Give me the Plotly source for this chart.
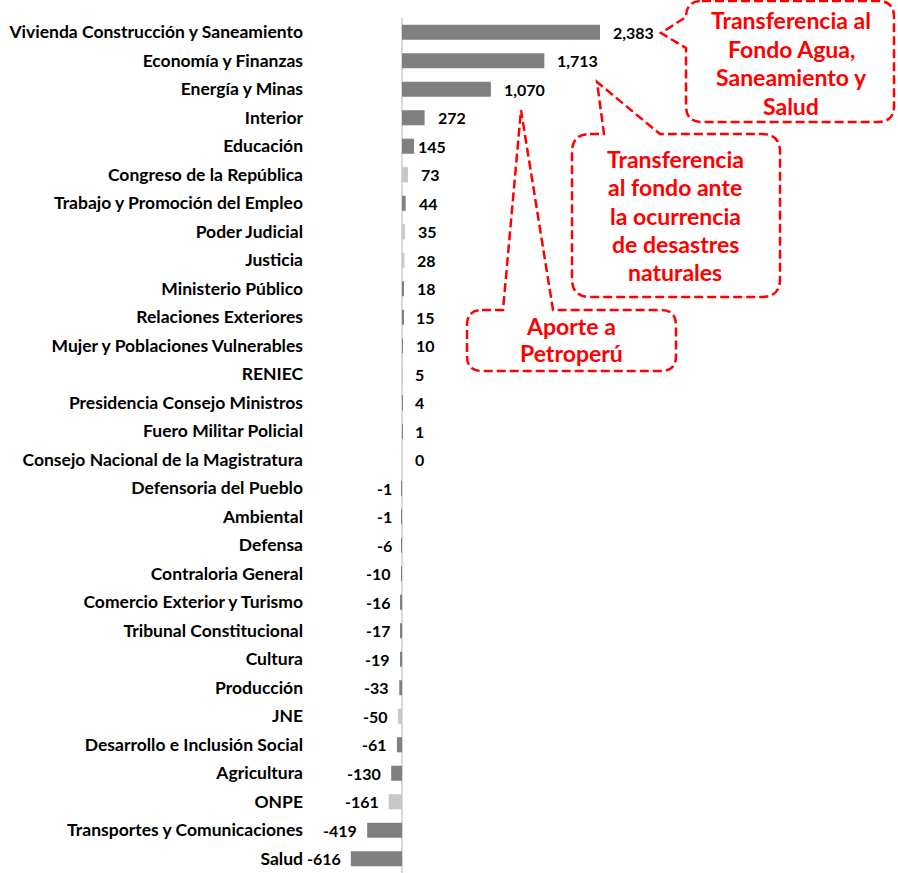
import plotly.graph_objects as go

categories = [
    "Vivienda Construcción y Saneamiento", "Economía y Finanzas", "Energía y Minas",
    "Interior", "Educación", "Congreso de la República",
    "Trabajo y Promoción del Empleo", "Poder Judicial", "Justicia",
    "Ministerio Público", "Relaciones Exteriores", "Mujer y Poblaciones Vulnerables",
    "RENIEC", "Presidencia Consejo Ministros", "Fuero Militar Policial",
    "Consejo Nacional de la Magistratura", "Defensoria del Pueblo", "Ambiental",
    "Defensa", "Contraloria General", "Comercio Exterior y Turismo",
    "Tribunal Constitucional", "Cultura", "Producción", "JNE",
    "Desarrollo e Inclusión Social", "Agricultura", "ONPE",
    "Transportes y Comunicaciones", "Salud",
]
values = [2383, 1713, 1070, 272, 145, 73, 44, 35, 28, 18, 15, 10, 5, 4, 1, 0,
          -1, -1, -6, -10, -16, -17, -19, -33, -50, -61, -130, -161, -419, -616]
light_entities = ["Congreso de la República", "Poder Judicial", "Justicia",
                  "RENIEC", "JNE", "ONPE"]

callout_lines = [
    ["Transferencia al", "Fondo Agua,", "Saneamiento y", "Salud"],
    ["Transferencia", "al fondo ante", "la ocurrencia", "de desastres", "naturales"],
    ["Aporte a", "Petroperú"],
]

W, H = 898, 873
L, R, T, B = 310, 8, 18, 0
PW, PH = W - L - R, H - T - B
ZERO_PX = 402
SCALE = (600 - 402) / 2383.0
xmin = -(ZERO_PX - L) / SCALE
xmax = (W - R - ZERO_PX) / SCALE

colors = ["#c8c8c8" if c in light_entities else "#808080" for c in categories]

fig = go.Figure(go.Bar(
    x=values, y=categories, orientation="h",
    marker=dict(color=colors, line=dict(width=0)),
    hoverinfo="x+y",
))

FONT = "Lato"
label_nudge = {"Educación": -9}
annotations = []
for c, v in zip(categories, values):
    if v >= 0:
        annotations.append(dict(x=v, y=c, xref="x", yref="y", text=f"{v:,}",
                                showarrow=False, xanchor="left",
                                xshift=11 + label_nudge.get(c, 0),
                                font=dict(family=FONT, size=16, color="black", weight="bold")))
    else:
        annotations.append(dict(x=v, y=c, xref="x", yref="y", text=f"{v:,}",
                                showarrow=False, xanchor="right", xshift=-8,
                                font=dict(family=FONT, size=16, color="black", weight="bold")))


def px(x):
    return (x - L) / PW


def py(y):
    return 1 - (y - T) / PH


def path(cmds):
    out = []
    for cmd in cmds:
        op = cmd[0]
        coords = cmd[1:]
        pts = [f"{px(coords[i]):.5f},{py(coords[i+1]):.5f}" for i in range(0, len(coords), 2)]
        out.append(op + " " + " ".join(pts))
    return " ".join(out) + " Z"


def box(x0, y0, x1, y1, r, pointer):
    side, a, b, tx, ty = pointer
    cmds = [("M", x0 + r, y0)]
    if side == "top":
        cmds += [("L", a, y0), ("L", tx, ty), ("L", b, y0)]
    cmds += [("L", x1 - r, y0), ("Q", x1, y0, x1, y0 + r),
             ("L", x1, y1 - r), ("Q", x1, y1, x1 - r, y1),
             ("L", x0 + r, y1), ("Q", x0, y1, x0, y1 - r)]
    if side == "left":
        cmds += [("L", x0, b), ("L", tx, ty), ("L", x0, a)]
    cmds += [("L", x0, y0 + r), ("Q", x0, y0, x0 + r, y0)]
    return path(cmds)


line_style = dict(color="#ff0000", width=2.5, dash="9px,4px")
shapes = [
    dict(type="path", xref="paper", yref="paper", line=line_style,
         path=box(686, 1, 894, 122, 16, ("left", 17, 48, 661, 33))),
    dict(type="path", xref="paper", yref="paper", line=line_style,
         path=box(572, 134, 780, 297, 18, ("top", 604, 660, 597, 82))),
    dict(type="path", xref="paper", yref="paper", line=line_style,
         path=box(467, 310, 676, 371, 15, ("top", 503, 553, 521, 110))),
]

callout_pos = [(791, 20, 28.5), (675, 159, 28.3), (571, 326, 26.5)]
for (cx, cy, dy), lines in zip(callout_pos, callout_lines):
    for i, t in enumerate(lines):
        annotations.append(dict(x=px(cx), y=py(cy + i * dy), xref="paper", yref="paper",
                                text=t, showarrow=False, xanchor="center", yanchor="middle",
                                font=dict(family=FONT, size=23, color="#ff0000", weight="bold")))

fig.update_layout(
    width=W, height=H,
    margin=dict(l=L, r=R, t=T, b=B, autoexpand=False),
    paper_bgcolor="white", plot_bgcolor="white",
    bargap=0.47,
    showlegend=False,
    xaxis=dict(range=[xmin, xmax], showgrid=False, showticklabels=False, ticks="",
               zeroline=True, zerolinecolor="#d9d9d9", zerolinewidth=2,
               showline=False, fixedrange=True),
    yaxis=dict(autorange="reversed", showgrid=False, ticks="", showline=False,
               zeroline=False, ticklabelstandoff=6, automargin=False,
               tickfont=dict(family=FONT, size=17.5, color="black", weight="bold")),
    annotations=annotations,
    shapes=shapes,
)

fig.write_html("out.html", config={"displayModeBar": False},
               post_script="document.body.style.margin='0';document.body.style.overflow='hidden';")
